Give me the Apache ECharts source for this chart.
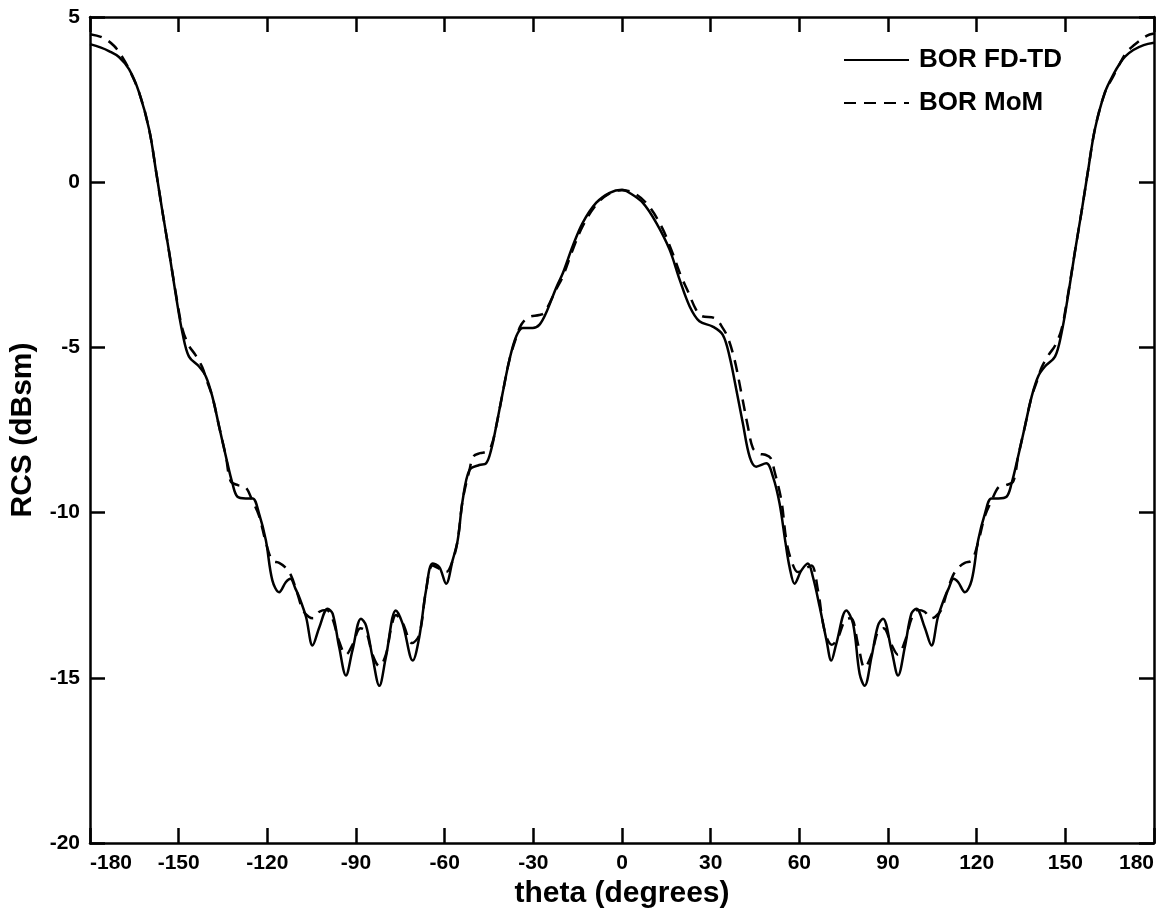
<!DOCTYPE html>
<html>
<head>
<meta charset="utf-8">
<script src="https://cdn.jsdelivr.net/npm/echarts@6/dist/echarts.min.js"></script>
<style>
html,body{margin:0;padding:0;background:#fff;}
#chart{width:1159px;height:914px;}
</style>
</head>
<body>
<div id="chart"></div>
<script>
// ---- data ----
const xTicks = [-180, -150, -120, -90, -60, -30, 0, 30, 60, 90, 120, 150, 180];
const yTicks = [-20, -15, -10, -5, 0, 5];

const fdtdTheta = [-180,-176.5,-173.6,-170.2,-166.8,-163.4,-160.0,-157.6,-155.6,-153.2,-150.7,-148.7,-146.5,-143.1,-140.8,-138.6,-136.3,-134.0,-131.8,-130.1,-127.3,-125.0,-122.8,-120.5,-118.3,-116.0,-113.7,-112.2,-110.5,-109.2,-106.9,-104.7,-102.4,-99.6,-97.9,-95.7,-93.4,-91.2,-88.3,-86.6,-84.4,-82.1,-79.9,-76.5,-74.2,-70.8,-68.6,-66.3,-64.1,-61.8,-59.5,-57.3,-55.6,-53.9,-51.6,-48.3,-46.0,-44.3,-42.6,-40.4,-38.1,-35.8,-33.6,-30.2,-27.9,-25.7,-22.3,-20.0,-16.7,-13.3,-8.7,-4.2,0,
  2.5,7.0,11.6,16.1,19.5,22.9,26.2,30.7,34.1,36.4,38.7,40.9,43.2,45.4,48.8,51.1,53.3,55.3,56.7,58.4,60.7,62.9,64.6,66.9,69.2,70.8,72.5,75.9,78.2,80.4,82.1,84.4,86.6,88.3,91.2,93.4,95.7,97.9,99.6,102.4,104.7,106.9,109.2,110.5,112.2,113.7,116.0,118.3,120.5,122.8,125.0,127.3,130.1,131.8,134.0,136.3,138.6,140.8,143.1,146.5,148.7,150.7,153.2,155.6,157.6,160.0,163.4,166.5,168.5,170.2,173.0,176.5,180];
const fdtdRcs = [4.18,4.08,3.97,3.79,3.42,2.72,1.60,0.30,-0.83,-2.13,-3.56,-4.57,-5.28,-5.58,-5.88,-6.49,-7.40,-8.31,-9.12,-9.52,-9.57,-9.57,-10.03,-10.84,-12.05,-12.41,-12.10,-12.00,-12.30,-12.56,-13.16,-14.02,-13.47,-12.91,-13.06,-14.07,-14.93,-14.17,-13.21,-13.42,-14.38,-15.24,-14.38,-12.96,-13.37,-14.48,-13.77,-12.35,-11.54,-11.65,-12.15,-11.44,-10.84,-9.62,-8.71,-8.56,-8.51,-8.11,-7.40,-6.39,-5.38,-4.67,-4.41,-4.41,-4.31,-3.96,-3.20,-2.75,-1.94,-1.23,-0.62,-0.32,-0.23,
  -0.32,-0.62,-1.23,-2.04,-2.95,-3.76,-4.21,-4.37,-4.62,-5.28,-6.29,-7.30,-8.31,-8.61,-8.51,-8.92,-9.72,-10.90,-11.65,-12.15,-11.75,-11.54,-11.95,-12.86,-13.87,-14.48,-13.97,-12.96,-13.37,-14.88,-15.24,-14.38,-13.42,-13.21,-14.17,-14.93,-14.07,-13.06,-12.91,-13.47,-14.02,-13.16,-12.56,-12.30,-12.00,-12.10,-12.41,-12.05,-10.84,-10.03,-9.57,-9.57,-9.52,-9.12,-8.31,-7.40,-6.49,-5.88,-5.58,-5.28,-4.57,-3.56,-2.13,-0.83,0.30,1.60,2.72,3.30,3.60,3.80,4.00,4.15,4.22];

const momTheta = [-180,-175.8,-171.9,-169.0,-166.8,-163.4,-160.0,-157.6,-155.6,-153.2,-150.7,-148.7,-146.5,-144.4,-142.0,-140.5,-138.6,-136.3,-134.0,-132.4,-130.0,-127.5,-125.0,-122.8,-120.5,-118.3,-116.0,-114.0,-112.0,-110.0,-108.0,-106.0,-104.5,-102.4,-100.0,-98.0,-95.7,-93.4,-91.2,-88.5,-86.6,-84.4,-82.1,-79.9,-78.0,-76.5,-74.2,-71.0,-68.6,-66.3,-64.1,-61.8,-59.5,-57.3,-55.6,-53.9,-51.6,-50.3,-48.0,-46.0,-44.3,-42.6,-40.4,-38.1,-35.8,-34.0,-31.5,-28.0,-26.3,-22.3,-20.0,-16.7,-13.3,-8.7,-4.2,0,
  4.2,8.7,13.3,16.7,20.0,22.3,25.0,26.9,31.5,34.0,35.8,38.1,40.4,42.6,44.3,46.5,48.5,50.3,51.6,53.9,55.6,57.3,59.5,61.8,64.1,66.3,68.6,71.0,73.0,75.5,77.5,79.9,82.1,84.4,86.6,88.5,91.2,93.4,95.7,98.0,100.0,102.4,104.5,106.0,108.0,110.0,112.0,114.0,116.0,118.3,120.5,122.8,125.0,127.5,130.0,132.4,134.0,136.3,138.6,140.5,142.0,144.4,146.5,148.7,150.7,153.2,155.6,157.6,160.0,163.4,166.2,168.5,170.7,173.0,177.5,180];
const momRcs = [4.48,4.38,4.13,3.78,3.42,2.72,1.60,0.30,-0.83,-2.13,-3.50,-4.45,-4.95,-5.22,-5.60,-6.00,-6.49,-7.40,-8.31,-9.05,-9.17,-9.22,-9.65,-10.10,-10.90,-11.45,-11.52,-11.65,-11.90,-12.40,-12.95,-13.15,-13.20,-13.00,-12.95,-13.20,-13.90,-14.30,-14.00,-13.50,-13.60,-14.30,-14.65,-14.30,-13.45,-13.10,-13.35,-13.95,-13.70,-12.35,-11.60,-11.70,-11.80,-11.45,-10.84,-9.62,-8.71,-8.30,-8.20,-8.16,-8.00,-7.40,-6.39,-5.38,-4.70,-4.30,-4.08,-4.02,-3.95,-3.25,-2.85,-2.05,-1.33,-0.68,-0.34,-0.24,
  -0.34,-0.68,-1.33,-2.05,-2.85,-3.30,-3.85,-4.05,-4.12,-4.40,-4.70,-5.38,-6.39,-7.40,-8.05,-8.22,-8.25,-8.35,-8.75,-9.62,-10.84,-11.45,-11.80,-11.70,-11.60,-12.35,-13.60,-14.00,-13.80,-13.25,-13.20,-14.00,-14.70,-14.30,-13.60,-13.50,-14.00,-14.30,-13.90,-13.20,-12.95,-13.00,-13.20,-13.15,-12.95,-12.40,-11.90,-11.65,-11.52,-11.45,-10.90,-10.10,-9.65,-9.22,-9.17,-9.05,-8.31,-7.40,-6.49,-6.00,-5.60,-5.22,-4.95,-4.45,-3.50,-2.13,-0.83,0.30,1.60,2.72,3.20,3.60,3.93,4.13,4.43,4.50];

const seriesNames = ['BOR FD-TD', 'BOR MoM'];

// ---- build chart ----
const zip = (xs, ys) => xs.map((x, i) => [x, ys[i]]);
const FONT = '"Liberation Sans", Arial, Helvetica, sans-serif';
const chart = echarts.init(document.getElementById('chart'), null, {renderer: 'canvas'});

const axisLine = {show: true, onZero: false, lineStyle: {color: '#000', width: 2.5}};
const tick = {show: true, inside: true, length: 15, lineStyle: {color: '#000', width: 2.5}};
const lbl = {color: '#000', fontFamily: FONT, fontWeight: 'bold', fontSize: 21};
const titleStyle = {color: '#000', fontFamily: FONT, fontWeight: 'bold', fontSize: 30};

chart.setOption({
  backgroundColor: '#fff',
  animation: false,
  grid: {left: 90, right: 5, top: 17, bottom: 71, containLabel: false, outerBoundsMode: 'none'},
  legend: {
    orient: 'vertical', left: 838, top: 42, itemWidth: 65, itemHeight: 14, itemGap: 17,
    itemStyle: {opacity: 0},
    textStyle: {color: '#000', fontFamily: FONT, fontWeight: 'bold', fontSize: 26, padding: [0, 0, 0, 5]},
    data: seriesNames
  },
  xAxis: [
    {type: 'value', min: xTicks[0], max: xTicks[xTicks.length - 1], interval: 30,
     name: 'theta (degrees)', nameLocation: 'middle', nameGap: 28, nameTextStyle: titleStyle,
     axisLine: axisLine, axisTick: tick, splitLine: {show: false},
     axisLabel: Object.assign({margin: 10, alignMinLabel: 'left', alignMaxLabel: 'right'}, lbl)},
    {type: 'value', position: 'top', min: xTicks[0], max: xTicks[xTicks.length - 1], interval: 30,
     axisLine: axisLine, axisTick: tick, axisLabel: {show: false}, splitLine: {show: false}}
  ],
  yAxis: [
    {type: 'value', min: yTicks[0], max: yTicks[yTicks.length - 1], interval: 5,
     name: 'RCS (dBsm)', nameLocation: 'middle', nameGap: 52, nameRotate: 90, nameTextStyle: titleStyle,
     axisLine: axisLine, axisTick: tick, splitLine: {show: false},
     axisLabel: Object.assign({margin: 10}, lbl)},
    {type: 'value', position: 'right', min: yTicks[0], max: yTicks[yTicks.length - 1], interval: 5,
     axisLine: axisLine, axisTick: tick, axisLabel: {show: false}, splitLine: {show: false}}
  ],
  series: [
    {name: seriesNames[0], type: 'line', data: zip(fdtdTheta, fdtdRcs), showSymbol: false, symbol: 'none',
     smooth: 0.35, lineStyle: {color: '#000', width: 2.5, type: 'solid'}, itemStyle: {color: '#000'}, z: 3},
    {name: seriesNames[1], type: 'line', data: zip(momTheta, momRcs), showSymbol: false, symbol: 'none',
     smooth: 0.35, lineStyle: {color: '#000', width: 2.5, type: [12, 8]}, itemStyle: {color: '#000'}, z: 2}
  ]
});
</script>
</body>
</html>
